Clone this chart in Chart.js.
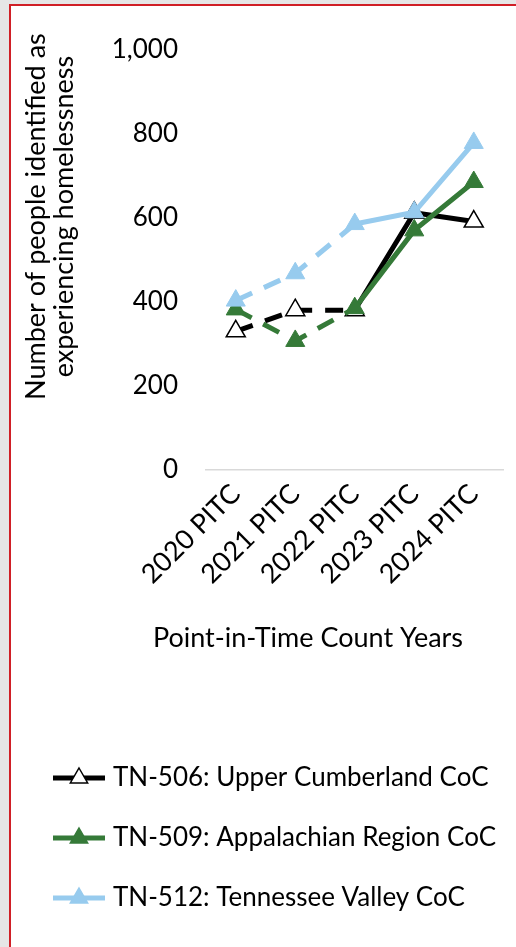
<!DOCTYPE html>
<html>
<head>
<meta charset="utf-8">
<script src="https://cdn.jsdelivr.net/npm/chart.js@4/dist/chart.umd.min.js"></script>
<style>
  html, body { margin: 0; padding: 0; background: #e6e6e6; overflow: hidden; }
  #box {
    position: absolute; left: 9px; top: 4px; width: 505px; height: 941px;
    background: #fff; border-left: 2px solid #d01f26; border-top: 2px solid #d01f26;
  }
</style>
</head>
<body>
<div id="box"><canvas id="chartjs" width="505" height="941"></canvas></div>
<script>

const years = ['2020 PITC', '2021 PITC', '2022 PITC', '2023 PITC', '2024 PITC'];

const tn506 = [330, 380, 380, 612, 591];
const tn509 = [382, 307, 385, 570, 685];
const tn512 = [403, 468, 585, 613, 778];

const seriesNames = [
    'TN-506: Upper Cumberland CoC',
    'TN-509: Appalachian Region CoC',
    'TN-512: Tennessee Valley CoC'
];

const yTicks = [0, 200, 400, 600, 800, 1000];
const yTitle = ['Number of people identified as', 'experiencing homelessness'];
const xTitle = 'Point-in-Time Count Years';

const FONT = 'Lato, "Open Sans", sans-serif';
const colors = ['#000000', '#357a38', '#97cbee'];
const fills = ['#ffffff', '#357a38', '#97cbee'];

// first two years are dashed in the original
const dashed = ctx => ctx.p0DataIndex < 2 ? [18, 13] : undefined;

// little line + triangle picture for each legend entry
function legendIcon(i) {
    const cv = document.createElement('canvas');
    cv.width = 52;
    cv.height = 24;
    const c = cv.getContext('2d');
    c.strokeStyle = colors[i];
    c.lineWidth = 5;
    c.beginPath();
    c.moveTo(0, 12);
    c.lineTo(52, 12);
    c.stroke();
    const r = 10;
    c.beginPath();
    c.moveTo(26, 12 - r);
    c.lineTo(26 + r * 0.866, 12 + r / 2);
    c.lineTo(26 - r * 0.866, 12 + r / 2);
    c.closePath();
    c.fillStyle = fills[i];
    c.fill();
    c.lineWidth = 1.5;
    c.strokeStyle = colors[i];
    c.stroke();
    return cv;
}

const axisTitles = {
    id: 'axisTitles',
    afterDraw(chart) {
        const c = chart.ctx;
        const area = chart.chartArea;
        c.save();
        c.fillStyle = '#000';
        c.font = '27px ' + FONT;
        c.textAlign = 'center';
        c.textBaseline = 'middle';
        c.translate(area.left - 170, area.top + 167);
        c.rotate(-Math.PI / 2);
        c.fillText(yTitle[0], 0, 0);
        c.fillText(yTitle[1], 0, 28);
        c.restore();

        c.save();
        c.fillStyle = '#000';
        c.font = '27px ' + FONT;
        c.textAlign = 'center';
        c.textBaseline = 'middle';
        c.fillText(xTitle, area.left + 102, area.bottom + 168);
        c.restore();
    }
};

const ctx = document.querySelector('#chartjs');

const datasets = [tn506, tn509, tn512].map((vals, i) => ({
    label: seriesNames[i],
    data: vals,
    borderColor: colors[i],
    backgroundColor: fills[i],
    borderWidth: 5,
    pointStyle: 'triangle',
    pointRadius: 11,
    pointHoverRadius: 11,
    pointBackgroundColor: fills[i],
    pointBorderColor: colors[i],
    pointBorderWidth: i === 0 ? 1.5 : 1,
    tension: 0,
    order: 3 - i,
    segment: { borderDash: dashed }
}));

const myChart = new Chart(ctx, {
    type: 'line',
    data: { labels: years, datasets: datasets },
    options: {
        responsive: false,
        animation: false,
        devicePixelRatio: 1,
        layout: { padding: { left: 13, right: 9, top: 43, bottom: 26 } },
        scales: {
            x: {
                offset: true,
                grid: { display: false, drawTicks: false },
                border: { display: true, color: '#d9d9d9', width: 1.5 },
                ticks: {
                    color: '#000',
                    font: { family: FONT, size: 27 },
                    minRotation: 45,
                    maxRotation: 45,
                    padding: 8
                },
                afterFit(scale) { scale.height = 261; }
            },
            y: {
                min: 0,
                max: 1000,
                grid: { display: false, drawTicks: false },
                border: { display: false },
                afterBuildTicks(scale) { scale.ticks = yTicks.map(v => ({ value: v })); },
                ticks: {
                    color: '#000',
                    font: { family: FONT, size: 26 },
                    padding: 28,
                    callback: v => v.toLocaleString('en-US')
                },
                afterFit(scale) { scale.width = 182; }
            }
        },
        plugins: {
            tooltip: { enabled: false },
            legend: {
                position: 'bottom',
                align: 'start',
                labels: {
                    color: '#000',
                    font: { family: FONT, size: 26 },
                    padding: 34,
                    usePointStyle: true,
                    pointStyleWidth: 42,
                    generateLabels: chart => chart.data.datasets.map((d, i) => ({
                        text: d.label,
                        pointStyle: legendIcon(i),
                        fillStyle: fills[i],
                        strokeStyle: colors[i],
                        lineWidth: 0,
                        hidden: false,
                        datasetIndex: i
                    }))
                }
            }
        }
    },
    plugins: [axisTitles]
});

</script>
</body>
</html>
